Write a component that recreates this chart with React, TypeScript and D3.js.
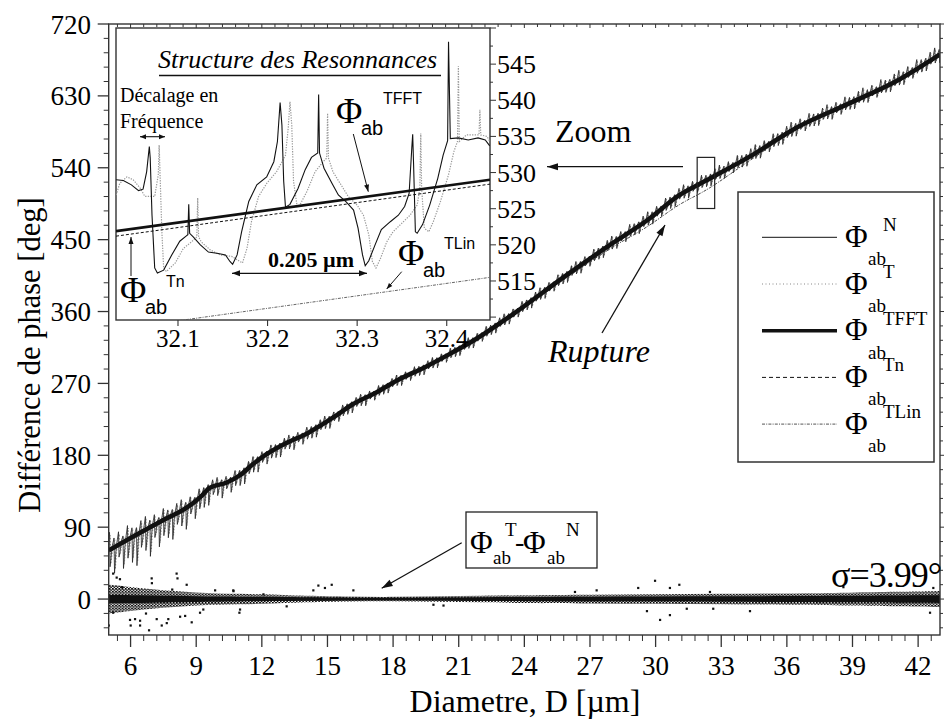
import React from 'react';
import * as d3 from 'd3';

// ---------------- data ----------------
const xTickValues = [6, 9, 12, 15, 18, 21, 24, 27, 30, 33, 36, 39, 42];
const yTickValues = [0, 90, 180, 270, 360, 450, 540, 630, 720];
const insetXTickValues = [32.1, 32.2, 32.3, 32.4];
const insetYTickValues = [515, 520, 525, 530, 535, 540, 545];

// smooth phase curves of the main chart (diameter in µm, phase in deg)
const diam = [5, 6.1, 7.5, 8.6, 9.2, 9.6, 10.4, 11, 11.6, 12.2, 13.1, 14.05, 15.3, 16.1, 17.25, 18.2, 19.5, 20.6, 21.7, 23.5, 25.8, 28, 29.6, 31.1, 32.3, 34.3, 36.5, 38.8, 41.1, 43];
const phiTFFT = [61, 78, 99, 115, 128, 139, 146, 155, 169, 181, 195, 207, 228, 243, 259, 274, 291, 307, 324, 357, 403, 445, 474, 506, 524, 554, 591, 620, 650, 682];
const phiTn = [60, 77, 98, 114, 127, 138, 145, 154, 168, 180, 194, 206, 227, 242, 258, 273, 290, 306, 323, 356, 402, 444, 473, 505, 523, 553, 590, 619, 649, 681];
const phiTLin = [60, 77, 98, 114, 127, 138, 145, 154, 168, 180, 194, 206, 227, 242, 258, 273, 290, 306, 323, 356, 400, 440, 466, 494, 512, 549, 589, 618, 648, 680];

// resonance spike envelope of Phi_N around the smooth curve (deg)
const envD = [5, 6, 7, 8, 9, 10, 12, 15, 18, 21, 24, 27, 30, 33, 36, 39, 43];
const envUp = [22, 18, 16, 14, 12, 10, 9, 8, 7, 7, 8, 9, 10, 10, 11, 11, 12];
const envDown = [30, 40, 36, 30, 24, 18, 14, 11, 9, 9, 9, 10, 10, 10, 10, 10, 10];
const resonancePeriod = 0.205;
const upFactors = [1, 0.55, 0.8, 0.4, 0.95, 0.65, 0.5, 0.85];
const downFactors = [0.7, 1, 0.45, 0.9, 0.6, 0.8, 1, 0.5];

// residual Phi_T - Phi_N band (half widths, deg)
const resD = [5, 6, 7, 8, 9, 10, 11, 12, 13, 14, 16, 18, 20, 22, 24, 27, 30, 33, 36, 39, 41, 43];
const resHalf = [18, 15, 12, 10, 8, 7, 6.5, 6, 5, 4, 3, 2.5, 3.5, 4, 5, 5.5, 6, 6.5, 7, 8, 9, 10];
const resCore = [5, 4.8, 4.5, 4, 3.6, 3.3, 3, 2.8, 2.6, 2.3, 1.7, 1.4, 1.8, 2.3, 2.7, 3, 3.2, 3.4, 3.7, 4.1, 4.5, 4.8];
const outlierD = [5.2, 5.36, 5.0, 5.2, 5.51, 6.0, 6.2, 6.43, 6.84, 6.96, 7.19, 7.42, 7.65, 8.1, 8.26, 8.49, 8.79, 9.17, 9.32, 9.86, 10.69, 10.97, 12.07, 13.13, 14.35, 14.58, 14.88, 15.19, 16.18, 19.84, 20.3, 26.31, 27.3, 29.2, 29.6, 29.97, 30.2, 30.65, 30.65, 31.08, 31.42, 32.48, 32.63, 34.31, 38.58, 42.54, 42.69, 8.14, 6.97, 8.56, 10.7, 5.97, 7.72, 11.0, 6.43, 5.6, 6.7, 7.9];
const outlierV = [32, 27, -33, -17, 25, -33, -25, -33, -39, 26, -25, -33, -30, 32, -22, -21, -29, -17, -13, 11, 11, -17, 6, -9, 11, 17, 14, 18, 11, -7, -8, 9, 11, 14, -15, 23, -26, 14, -20, 18, -12, 9, -12, -15, 15, -17, 14, 26, 20, 18, 10, -26, -25, -13, -27, 15, -18, 12];

// zoomed region
const zoomBoxD = [31.9, 32.7];
const zoomBoxV = [489, 553];

// inset: Phi_N (solid) and Phi_T (dotted)
const insetND = [32.031, 32.039, 32.048, 32.056, 32.061, 32.065, 32.068, 32.069, 32.071, 32.074, 32.077, 32.084, 32.093, 32.102, 32.109, 32.111, 32.112, 32.113, 32.117, 32.125, 32.134, 32.145, 32.153, 32.158, 32.161, 32.166, 32.171, 32.179, 32.188, 32.199, 32.207, 32.211, 32.214, 32.216, 32.218, 32.220, 32.225, 32.234, 32.242, 32.249, 32.256, 32.257, 32.258, 32.263, 32.272, 32.279, 32.288, 32.296, 32.301, 32.306, 32.309, 32.313, 32.320, 32.327, 32.337, 32.346, 32.353, 32.358, 32.361, 32.362, 32.363, 32.365, 32.367, 32.373, 32.381, 32.390, 32.396, 32.401, 32.402, 32.404, 32.413, 32.424, 32.435, 32.443, 32.448];
const insetNV = [529.0, 528.9, 528.3, 527.5, 527.7, 530.1, 533.6, 532.0, 524.1, 516.8, 516.1, 516.5, 518.6, 520.5, 521.2, 521.4, 525.6, 521.6, 521.1, 520.0, 519.0, 518.8, 518.6, 517.7, 517.3, 518.6, 521.8, 526.0, 528.3, 529.4, 531.5, 534.3, 539.7, 536.6, 528.8, 525.2, 525.6, 527.8, 530.4, 532.1, 532.7, 540.8, 532.7, 530.6, 528.5, 526.9, 525.9, 524.8, 522.3, 518.6, 517.1, 517.8, 520.0, 522.1, 523.2, 524.1, 525.3, 527.1, 533.4, 535.3, 531.1, 521.8, 521.6, 522.8, 525.5, 529.2, 532.4, 534.4, 548.1, 534.7, 534.8, 534.5, 534.8, 534.5, 533.7];
const insetTD = [32.031, 32.035, 32.043, 32.050, 32.058, 32.063, 32.074, 32.078, 32.079, 32.080, 32.082, 32.084, 32.087, 32.097, 32.106, 32.115, 32.121, 32.122, 32.123, 32.126, 32.136, 32.147, 32.160, 32.169, 32.172, 32.177, 32.182, 32.190, 32.199, 32.210, 32.220, 32.223, 32.225, 32.227, 32.229, 32.233, 32.236, 32.244, 32.253, 32.262, 32.266, 32.267, 32.268, 32.273, 32.283, 32.290, 32.300, 32.307, 32.313, 32.317, 32.321, 32.326, 32.333, 32.340, 32.350, 32.359, 32.367, 32.370, 32.371, 32.372, 32.375, 32.380, 32.385, 32.393, 32.402, 32.408, 32.412, 32.413, 32.414, 32.422, 32.432, 32.436, 32.437, 32.438, 32.445, 32.448];
const insetTV = [526.9, 528.5, 529.4, 529.0, 527.8, 526.7, 526.7, 529.7, 533.8, 529.7, 521.8, 516.8, 516.3, 517.5, 519.5, 520.4, 521.1, 526.5, 521.1, 520.4, 519.3, 518.6, 518.4, 517.7, 517.5, 519.5, 523.2, 526.7, 528.5, 530.1, 532.4, 536.1, 539.8, 536.6, 528.8, 525.3, 525.5, 527.4, 530.1, 531.5, 532.0, 538.2, 532.0, 530.1, 528.1, 526.7, 525.5, 524.1, 521.4, 517.7, 516.8, 518.1, 520.4, 521.8, 523.0, 524.1, 525.5, 527.8, 535.4, 527.8, 522.3, 521.8, 523.2, 526.0, 529.7, 532.9, 534.3, 544.7, 534.3, 535.2, 535.2, 535.2, 538.7, 535.2, 535.0, 534.3];
const insetLineD = [32.0308, 32.4483];
const insetTFFTV = [521.9, 529.0];
const insetTnV = [521.2, 528.4];
const insetTLinV = [508.3, 515.5];

const legendSups = ['N', 'T', 'TFFT', 'Tn', 'TLin'];

// ---------------- drawing ----------------
const SERIF = "'Liberation Serif', 'Times New Roman', serif";
const SANS = "'Liberation Sans', Arial, sans-serif";

const W = 946, H = 720;
const PL = 108.7, PR = 940, PT = 24, PB = 635;
const x = d3.scaleLinear().domain([5, 43]).range([PL, PR]);
const y = d3.scaleLinear().domain([-45, 720]).range([PB, PT]);

const IL = 116, IR = 490, IT = 28, IB = 320;
const ix = d3.scaleLinear().domain([32.0308, 32.4483]).range([IL, IR]);
const iy = d3.scaleLinear().domain([509.6, 550]).range([IB, IT]);

function spikePoints(offset: number, upScale: number, downScale: number): [number, number][] {
  const m = d3.scaleLinear().domain(diam).range(phiTFFT);
  const up = d3.scaleLinear().domain(envD).range(envUp);
  const dn = d3.scaleLinear().domain(envD).range(envDown);
  const pts: [number, number][] = [];
  let k = 0;
  for (let d = 5 + offset; d < 43.3; d += resonancePeriod, k++) {
    const fu = upFactors[k % upFactors.length] * upScale;
    const fd = downFactors[k % downFactors.length] * downScale;
    pts.push([d - 0.09, m(d - 0.09) + 0.15 * up(d)]);
    pts.push([d - 0.012, m(d) + up(d) * fu]);
    pts.push([d + 0.012, m(d) - dn(d) * fd]);
    pts.push([d + 0.07, m(d + 0.07) - 0.25 * dn(d)]);
  }
  return pts;
}

function Arrow({ x1, y1, x2, y2, head = 10, w = 3.5, sw = 1.3, both = false }: any) {
  const a = Math.atan2(y2 - y1, x2 - x1);
  const tri = (px: number, py: number, ang: number) => {
    const bx = px - head * Math.cos(ang), by = py - head * Math.sin(ang);
    const nx = -Math.sin(ang) * w, ny = Math.cos(ang) * w;
    return `${px},${py} ${bx + nx},${by + ny} ${bx - nx},${by - ny}`;
  };
  return (
    <g>
      <line x1={x1} y1={y1} x2={x2} y2={y2} stroke="#111" strokeWidth={sw} />
      <polygon points={tri(x2, y2, a)} fill="#111" />
      {both && <polygon points={tri(x1, y1, a + Math.PI)} fill="#111" />}
    </g>
  );
}

function Phi({ px, py, sup, subDy, supDy, supDx, subDx, big, small, supFont, subFont, supSize }: any) {
  return (
    <g>
      <text x={px} y={py} fontFamily={SERIF} fontSize={big}>Φ</text>
      <text x={px + subDx} y={py + subDy} fontFamily={subFont} fontSize={small}>ab</text>
      <text x={px + supDx} y={py + supDy} fontFamily={supFont} fontSize={supSize}>{sup}</text>
    </g>
  );
}

export default function App() {
  const line = d3.line<[number, number]>().x(d => x(d[0])).y(d => y(d[1]));
  const smooth = (vals: number[]) =>
    d3.line<number>().x((_, i) => x(diam[i])).y(d => y(d)).curve(d3.curveMonotoneX)(vals) || '';

  const nPath = line(spikePoints(0.05, 1, 1)) || '';
  const tPath = line(spikePoints(0.085, 0.8, 0.85)) || '';

  const bandArea = (vals: number[]) => d3.area<number>()
    .x((_, i) => x(resD[i])).y0(d => y(-d)).y1(d => y(d)).curve(d3.curveBasis)(vals) || '';
  const resOuter = bandArea(resHalf);
  const resInner = bandArea(resCore);

  const insetPath = (ds: number[], vs: number[]) =>
    d3.line<number>().x((_, i) => ix(ds[i])).y(d => iy(d))(vs) || '';

  // ticks
  const xMinor: number[] = [];
  for (let i = 0; i * 0.6 + 5.4 < 43; i++) {
    const v = +(5.4 + 0.6 * i).toFixed(2);
    if (Math.abs(v / 3 - Math.round(v / 3)) > 1e-6) xMinor.push(v);
  }
  const yMinor: number[] = [];
  for (let v = -36; v <= 720; v += 18) if (v % 90 !== 0) yMinor.push(v);
  const iyMinor: number[] = [];
  for (let v = 510; v <= 550; v += 2.5) iyMinor.push(v);

  const legendY = (i: number) => 237.3 + 46.7 * i;
  const legendStyles = [
    { sw: 1, dash: undefined, col: '#111' },
    { sw: 1, dash: '1,2.5', col: '#888' },
    { sw: 3.5, dash: undefined, col: '#111' },
    { sw: 1, dash: '4,3', col: '#111' },
    { sw: 1, dash: '3,1.2,1,1.2', col: '#555' },
  ];

  return (
    <svg width={W} height={H} style={{ position: 'absolute', left: 0, top: 0, background: '#fff' }}>
      <defs>
        <clipPath id="plotClip"><rect x={PL} y={PT} width={PR - PL} height={PB - PT} /></clipPath>
        <clipPath id="insetClip"><rect x={IL} y={IT} width={IR - IL} height={IB - IT} /></clipPath>
        <pattern id="dots" width="3.2" height="2.8" patternUnits="userSpaceOnUse">
          <rect x="0" y="0" width="1.8" height="1.7" fill="#000" />
          <rect x="1.6" y="1.4" width="1.5" height="1.4" fill="#000" />
        </pattern>
      </defs>

      {/* main curves */}
      <g clipPath="url(#plotClip)">
        <path d={tPath} fill="none" stroke="#777" strokeWidth={0.8} strokeDasharray="1.5,1.5" />
        <path d={nPath} fill="none" stroke="#222" strokeWidth={0.8} />
        <path d={smooth(phiTLin)} fill="none" stroke="#444" strokeWidth={1} strokeDasharray="3,1.2,1,1.2" />
        <path d={smooth(phiTn)} fill="none" stroke="#111" strokeWidth={1} strokeDasharray="4,3" />
        <path d={smooth(phiTFFT)} fill="none" stroke="#111" strokeWidth={4.5} />
        {/* residual */}
        <path d={resOuter} fill="url(#dots)" />
        <path d={resInner} fill="#111" />
        {outlierD.map((d, i) => (
          <rect key={i} x={x(d) - 1} y={y(outlierV[i]) - 1} width={2.2} height={2.2} fill="#111" />
        ))}
      </g>

      {/* frame and axes */}
      <rect x={PL} y={PT} width={PR - PL} height={PB - PT} fill="none" stroke="#333" strokeWidth={1.4} />
      {xTickValues.map(v => (
        <g key={'xt' + v}>
          <line x1={x(v)} x2={x(v)} y1={PB} y2={PB + 12} stroke="#333" strokeWidth={1.3} />
          <line x1={x(v)} x2={x(v)} y1={PT} y2={PT + 4} stroke="#333" strokeWidth={1} />
          <text x={x(v)} y={675} textAnchor="middle" fontFamily={SERIF} fontSize={27}>{v}</text>
        </g>
      ))}
      {xMinor.map(v => (
        <g key={'xm' + v}>
          <line x1={x(v)} x2={x(v)} y1={PB} y2={PB + 6} stroke="#333" strokeWidth={1} />
          <line x1={x(v)} x2={x(v)} y1={PT} y2={PT + 3} stroke="#333" strokeWidth={1} />
        </g>
      ))}
      {yTickValues.map(v => (
        <g key={'yt' + v}>
          <line x1={PL - 11} x2={PL} y1={y(v)} y2={y(v)} stroke="#333" strokeWidth={1.3} />
          <line x1={PR} x2={PR + 4} y1={y(v)} y2={y(v)} stroke="#333" strokeWidth={1} />
          <text x={91} y={y(v) + 9.5} textAnchor="end" fontFamily={SERIF} fontSize={27}>{v}</text>
        </g>
      ))}
      {yMinor.map(v => (
        <g key={'ym' + v}>
          <line x1={PL - 5} x2={PL} y1={y(v)} y2={y(v)} stroke="#333" strokeWidth={1} />
          <line x1={PR} x2={PR + 3} y1={y(v)} y2={y(v)} stroke="#333" strokeWidth={1} />
        </g>
      ))}
      <text x={525} y={712} textAnchor="middle" fontFamily={SERIF} fontSize={32}>Diametre, D [µm]</text>
      <text transform="translate(40,355) rotate(-90)" textAnchor="middle" fontFamily={SERIF} fontSize={30.5}>Différence de phase [deg]</text>

      {/* zoom box and annotations */}
      <rect x={x(zoomBoxD[0])} y={y(zoomBoxV[1])} width={x(zoomBoxD[1]) - x(zoomBoxD[0])} height={y(zoomBoxV[0]) - y(zoomBoxV[1])} fill="none" stroke="#222" strokeWidth={1.2} />
      <Arrow x1={683} y1={166.7} x2={547} y2={166.7} head={11} w={3.5} />
      <text x={555} y={141.5} fontFamily={SERIF} fontSize={32}>Zoom</text>
      <Arrow x1={602} y1={333} x2={665} y2={225} head={11} w={3.5} />
      <text x={548} y={361.5} fontFamily={SERIF} fontStyle="italic" fontSize={32}>Rupture</text>
      <text x={831} y={587} fontFamily={SERIF} fontSize={36} letterSpacing={-1}>σ=3.99°</text>

      {/* residual label box */}
      <rect x={466} y={512} width={131} height={56} fill="#fff" stroke="#222" strokeWidth={1.3} />
      <text x={470} y={553} fontFamily={SERIF} fontSize={31}>Φ</text>
      <text x={493} y={564} fontFamily={SERIF} fontSize={19}>ab</text>
      <text x={505} y={536} fontFamily={SERIF} fontSize={19}>T</text>
      <text x={515} y={551} fontFamily={SERIF} fontSize={28}>-</text>
      <text x={523} y={553} fontFamily={SERIF} fontSize={31}>Φ</text>
      <text x={547} y={564} fontFamily={SERIF} fontSize={19}>ab</text>
      <text x={566} y={536} fontFamily={SERIF} fontSize={19}>N</text>
      <Arrow x1={461.7} y1={542.7} x2={381.7} y2={588.3} head={11} w={3.5} />

      {/* legend */}
      <rect x={738} y={192} width={196} height={270} fill="#fff" stroke="#333" strokeWidth={1.5} />
      {legendSups.map((s, i) => {
        const ly = legendY(i);
        const st = legendStyles[i];
        return (
          <g key={s}>
            <line x1={762} x2={837} y1={ly} y2={ly} stroke={st.col} strokeWidth={st.sw} strokeDasharray={st.dash} />
            <text x={845} y={ly + 9.5} fontFamily={SERIF} fontSize={31}>Φ</text>
            <text x={868} y={ly + 28} fontFamily={SERIF} fontSize={19}>ab</text>
            <text x={883} y={ly - 6} fontFamily={SERIF} fontSize={19}>{s}</text>
          </g>
        );
      })}

      {/* inset */}
      <rect x={IL} y={IT} width={IR - IL} height={IB - IT} fill="#fff" stroke="#333" strokeWidth={1.4} />
      <g clipPath="url(#insetClip)">
        <path d={insetPath(insetTD, insetTV)} fill="none" stroke="#999" strokeWidth={1.2} strokeDasharray="1.3,1.3" />
        <path d={insetPath(insetND, insetNV)} fill="none" stroke="#111" strokeWidth={1.1} />
        <path d={insetPath(insetLineD, insetTLinV)} fill="none" stroke="#555" strokeWidth={0.9} strokeDasharray="3,1.2,1,1.2" />
        <path d={insetPath(insetLineD, insetTnV)} fill="none" stroke="#111" strokeWidth={1} strokeDasharray="3,2" />
        <path d={insetPath(insetLineD, insetTFFTV)} fill="none" stroke="#111" strokeWidth={2.6} />
      </g>
      {insetXTickValues.map(v => (
        <g key={'ixt' + v}>
          <line x1={ix(v)} x2={ix(v)} y1={IB} y2={IB + 6} stroke="#333" strokeWidth={1.1} />
          <text x={ix(v)} y={347} textAnchor="middle" fontFamily={SERIF} fontSize={25}>{v}</text>
        </g>
      ))}
      {iyMinor.map(v => (
        <line key={'iym' + v} x1={IR} x2={IR + (v % 5 === 0 ? 6 : 3)} y1={iy(v)} y2={iy(v)} stroke="#333" strokeWidth={1} />
      ))}
      {insetYTickValues.map(v => (
        <text key={'iyt' + v} x={497} y={iy(v) + 9} fontFamily={SERIF} fontSize={26}>{v}</text>
      ))}

      <text x={158} y={68} fontFamily={SERIF} fontStyle="italic" fontSize={26}>Structure des Resonnances</text>
      <line x1={159} x2={441} y1={75.5} y2={75.5} stroke="#111" strokeWidth={1.5} />
      <text x={120} y={102} fontFamily={SERIF} fontSize={20}>Décalage en</text>
      <text x={120} y={128} fontFamily={SERIF} fontSize={20}>Fréquence</text>
      <Arrow x1={140} y1={136.7} x2={165} y2={136.7} head={6} w={2.5} sw={1.1} both />
      <text x={268} y={266.5} fontFamily={SERIF} fontWeight="bold" fontSize={22}>0.205 µm</text>
      <Arrow x1={232} y1={273.3} x2={367} y2={273.3} head={8} w={3} sw={1.3} both />

      <Phi px={336} py={123} sup="TFFT" subDx={25} subDy={12} supDx={47} supDy={-19} big={36} small={20} subFont={SANS} supFont={SANS} supSize={16} />
      <Arrow x1={353.3} y1={134} x2={368.3} y2={191.7} head={7} w={2.5} sw={1} />
      <Phi px={120} py={302} sup="Tn" subDx={25} subDy={12} supDx={46} supDy={-15} big={36} small={20} subFont={SANS} supFont={SANS} supSize={16} />
      <Arrow x1={131} y1={276} x2={131} y2={237} head={7} w={2.5} sw={1} />
      <Phi px={398} py={265} sup="TLin" subDx={25} subDy={12} supDx={46} supDy={-16} big={36} small={20} subFont={SANS} supFont={SANS} supSize={16} />
      <Arrow x1={401.7} y1={271.7} x2={386.7} y2={289} head={6} w={2.2} sw={1} />
    </svg>
  );
}
